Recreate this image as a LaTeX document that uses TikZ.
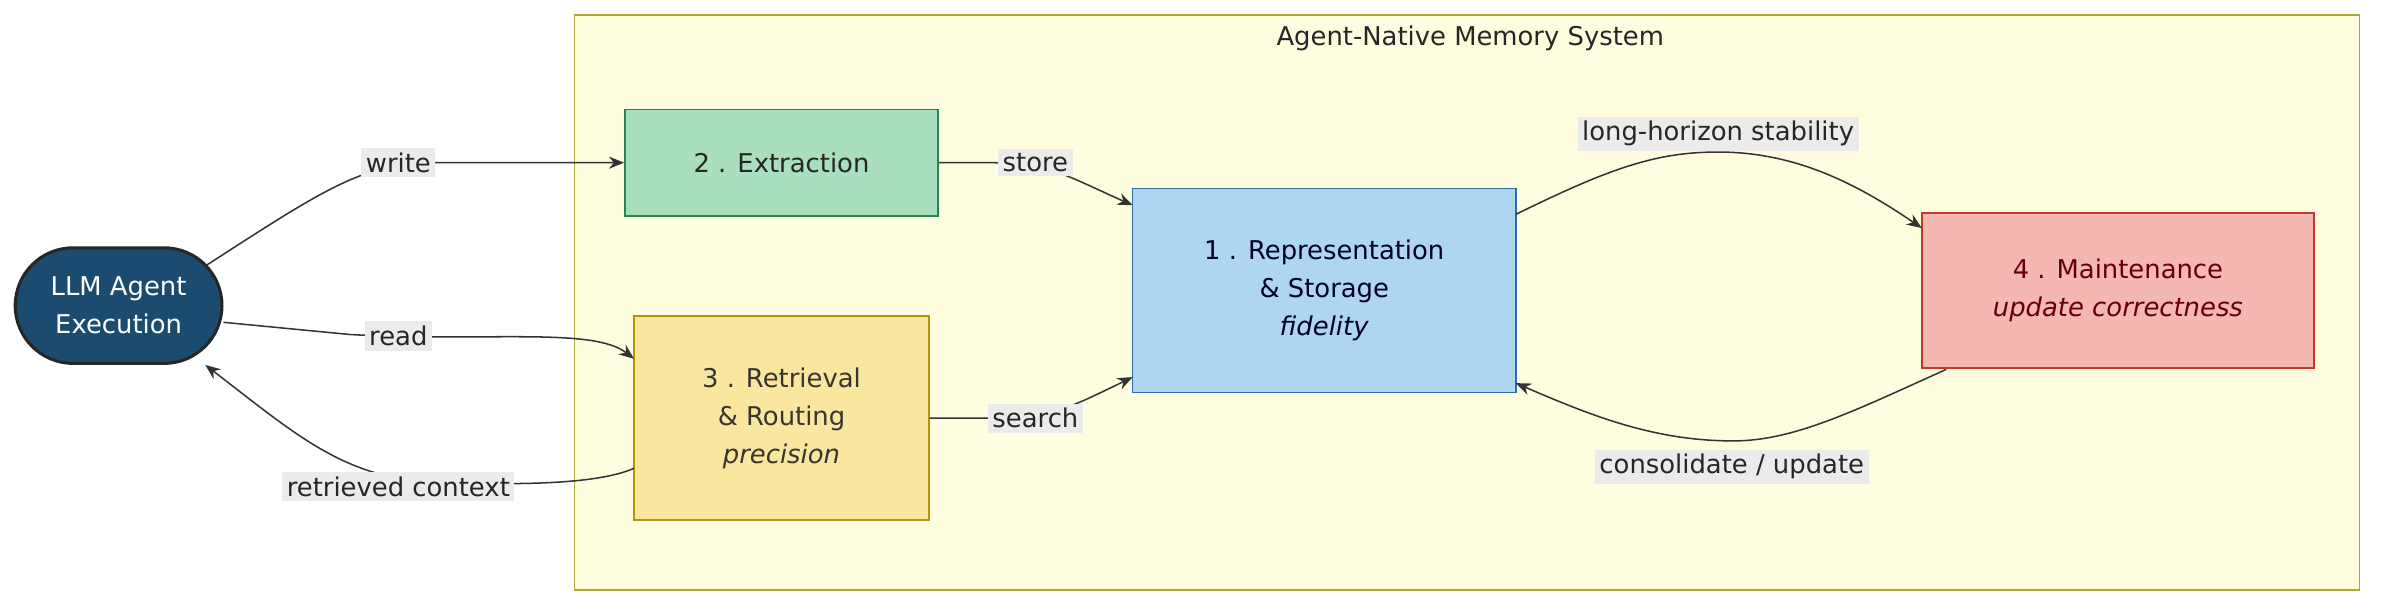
\documentclass[tikz,border=0pt]{standalone}
\usepackage{fontspec}
\setmainfont{DejaVu Sans}
\usetikzlibrary{positioning, shapes.misc, arrows.meta}
\definecolor{agentfill}{HTML}{1B4B6E}
\definecolor{extfill}{HTML}{A9DFBF}
\definecolor{extline}{HTML}{27864F}
\definecolor{retfill}{HTML}{F9E79F}
\definecolor{retline}{HTML}{B7950B}
\definecolor{repfill}{HTML}{AED6F1}
\definecolor{repline}{HTML}{2E6DA4}
\definecolor{mntfill}{HTML}{F5B7B1}
\definecolor{mntline}{HTML}{C0392B}
\definecolor{sysfill}{HTML}{FFFDE0}
\definecolor{sysline}{HTML}{AAAA33}

\begin{document}
\begin{tikzpicture}[x=0.5pt, y=-0.5pt, font=\fontsize{8.5}{12.5}\selectfont,
    box/.style={draw, align=center, inner sep=0pt, line width=0.5pt},
    lbl/.style={fill=black!8, inner sep=1.5pt, text=black!85},
    flow/.style={-{Stealth[length=5pt,width=4pt]}, draw=black!80, line width=0.5pt}]
            \useasboundingbox (0,0) rectangle (1568,400);
            % memory system cluster
            \node [draw=sysline, fill=sysfill, line width=0.5pt,
                   minimum width=587pt, minimum height=189pt, inner sep=0pt] (sys) at (965,199) {};
            \node [text=black!85] (sys_t) at (967,25) {Agent-Native Memory System};
            \node [box, rounded rectangle, fill=agentfill, draw=black!85, text=white,
                   line width=1pt, minimum width=68pt, minimum height=38pt] (agent) at (78,201) {LLM Agent\\Execution};
            \node [box, fill=extfill, draw=extline, text=black!85, minimum width=103pt, minimum height=35pt] (extract) at (514,107) {2 . Extraction};
            \node [box, fill=retfill, draw=retline, text=black!80!yellow!50!black, minimum width=97pt, minimum height=67pt] (retrieve) at (514,275) {3 . Retrieval\\\& Routing\\\textit{precision}};
            \node [box, fill=repfill, draw=repline, text=black!85!blue, minimum width=126pt, minimum height=67pt] (repr) at (871,191) {1 . Representation\\\& Storage\\\textit{fidelity}};
            \node [box, fill=mntfill, draw=mntline, text=red!40!black, minimum width=129pt, minimum height=51pt] (maint) at (1393,191) {4 . Maintenance\\\textit{update correctness}};
            % end points on the node borders
            \coordinate (a_w) at (135,175);
            \coordinate (a_r) at (147,212);
            \coordinate (a_c) at (135,240);
            \coordinate (r_in) at (417,236);
            \coordinate (r_out) at (417,308);
            \coordinate (p_st) at (745,135);
            \coordinate (p_se) at (745,248);
            \coordinate (p_lh) at (997,141);
            \coordinate (p_cu) at (997,252);
            \coordinate (m_in) at (1264,150);
            \coordinate (m_out) at (1280,243);
            \draw[flow] (a_w) .. controls (220,120) and (240,107) .. (290,107) -- (extract.west);
            \draw[flow] (a_r) -- (230,220) .. controls (320,225) and (390,215) .. (r_in);
            \draw[flow] (r_out) .. controls (390,320) and (330,318) .. (300,318) .. controls (230,318) and (200,290) .. (a_c);
            \draw[flow] (extract.east) -- (650,107) .. controls (690,107) and (700,115) .. (p_st);
            \draw[flow] (retrieve.east) -- (650,275) .. controls (690,275) and (700,270) .. (p_se);
            \draw[flow] (p_lh) .. controls (1060,110) and (1090,100) .. (1130,100) .. controls (1180,100) and (1220,120) .. (m_in);
            \draw[flow] (m_out) .. controls (1220,270) and (1180,290) .. (1140,290) .. controls (1090,290) and (1050,275) .. (p_cu);
            \node [lbl] (l_write) at (262,107) {write};
            \node [lbl] (l_read) at (262,221) {read};
            \node [lbl] (l_ctx) at (262,320) {retrieved context};
            \node [lbl] (l_store) at (681,107) {store};
            \node [lbl] (l_search) at (681,275) {search};
            \node [lbl] (l_long) at (1130,88) {long-horizon stability};
            \node [lbl] (l_cons) at (1139,307) {consolidate / update};
\end{tikzpicture}
\end{document}
